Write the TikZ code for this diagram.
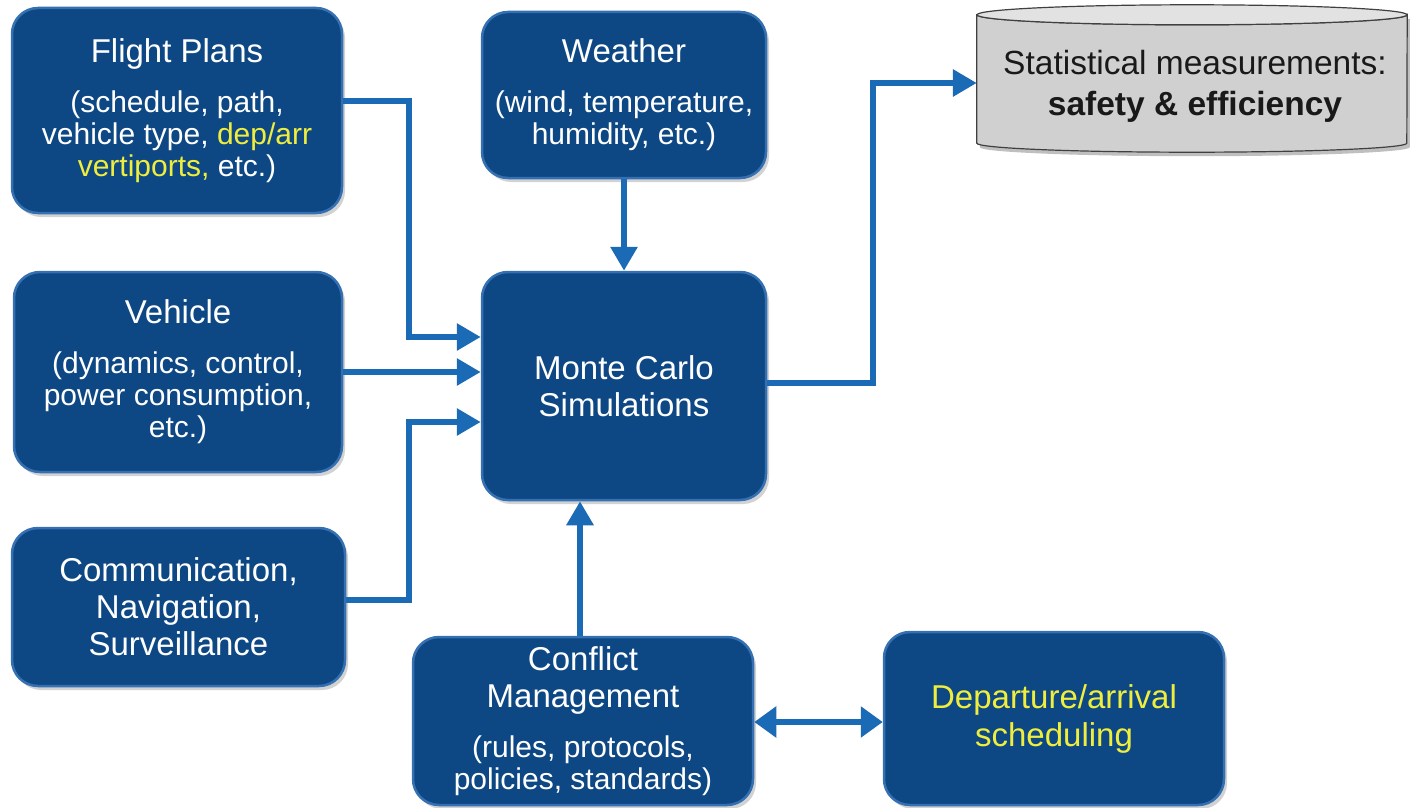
\documentclass[tikz,border=0pt]{standalone}
\usepackage{fontspec}
\setmainfont{Liberation Sans}
\usetikzlibrary{arrows.meta,shadows}
\definecolor{boxfill}{RGB}{14,72,132}
\definecolor{boxedge}{RGB}{52,112,178}
\definecolor{arrowc}{RGB}{27,106,182}
\definecolor{hl}{RGB}{240,238,60}
\definecolor{cylfill}{RGB}{208,208,208}
\definecolor{cyltop}{RGB}{226,226,226}
\newcommand{\ttlfont}{\fontsize{33}{37}\selectfont}
\newcommand{\dscfont}{\fontsize{30}{32}\selectfont}
\begin{document}
\begin{tikzpicture}[x=1pt,y=-1pt,
  box/.style={draw=boxedge, line width=2.5pt, fill=boxfill, rounded corners=26pt,
    text=white, align=center, inner sep=0pt,
    drop shadow={opacity=0.35, shadow xshift=3pt, shadow yshift=-4pt}},
  arr/.style={draw=arrowc, line width=6pt, -{Triangle[length=24pt,width=26pt]}},
  darr/.style={draw=arrowc, line width=6pt, {Triangle[length=22pt,width=30pt]}-{Triangle[length=22pt,width=30pt]}}
]
\useasboundingbox[fill=white] (0,0) rectangle (1410,808);

% boxes
\node[box, minimum width=330pt, minimum height=205pt, font=\dscfont] (fp) at (177,110.5)
  {{\ttlfont Flight Plans}\\[18pt](schedule, path,\\vehicle type, \textcolor{hl}{dep/arr}\\\textcolor{hl}{vertiports,} etc.)};
\node[box, minimum width=284pt, minimum height=166pt, font=\dscfont] (wx) at (624,95)
  {{\ttlfont Weather}\\[18pt](wind, temperature,\\humidity, etc.)};
\node[box, minimum width=328pt, minimum height=200pt, font=\dscfont] (vh) at (178,372)
  {{\ttlfont Vehicle}\\[18pt](dynamics, control,\\power consumption,\\etc.)};
\node[box, minimum width=284pt, minimum height=228pt, font=\ttlfont] (mc) at (624,386)
  {Monte Carlo\\Simulations};
\node[box, minimum width=333pt, minimum height=158pt, font=\ttlfont] (cns) at (178.5,607)
  {Communication,\\Navigation,\\Surveillance};
\node[box, minimum width=340pt, minimum height=168pt, font=\dscfont] (cm) at (583,721)
  {{\ttlfont Conflict}\\[5pt]{\ttlfont Management}\\[18pt](rules, protocols,\\policies, standards)};
\node[box, minimum width=340pt, minimum height=173pt, font=\fontsize{33}{38}\selectfont, text=hl] (dep) at (1054,718.5)
  {Departure/arrival\\scheduling};

% cylinder
\node[minimum width=430pt, minimum height=128pt, inner sep=0pt, align=center] (stat) at (1192,79) {};
\fill[black, opacity=0.25] ([xshift=3pt,yshift=-4pt]stat.north west) -- ([xshift=3pt,yshift=-4pt]stat.south west)
  arc[start angle=180, end angle=360, x radius=215pt, y radius=9pt] -- ([xshift=3pt,yshift=-4pt]stat.north east) -- cycle;
\draw[fill=cylfill, draw=black!75, line width=1.2pt] (stat.north west) -- (stat.south west)
  arc[start angle=180, end angle=360, x radius=215pt, y radius=9pt] -- (stat.north east)
  arc[start angle=0, end angle=-180, x radius=215pt, y radius=10pt] -- cycle;
\draw[fill=cyltop, draw=black!75, line width=1.2pt] (stat.north) ellipse[x radius=215pt, y radius=10pt];
\node[align=center, font=\fontsize{33.5}{41}\selectfont, text=black!90] (stattxt) at (1195,86)
  {Statistical measurements:\\\textbf{safety \& efficiency}};

% connectors
\draw[arr] ([yshift=10pt]fp.east) -- ++(66,0) |- ([yshift=49pt]mc.west);
\draw[arr] (vh.east) -- (vh.east -| mc.west);
\draw[arr] ([yshift=7pt]cns.east) -- ++(63,0) |- ([yshift=-36pt]mc.west);
\draw[arr] (wx.south) -- (mc.north);
\draw[arr] ([xshift=-3pt]cm.north) -- ([xshift=-3pt]cm.north |- mc.south);
\draw[arr] ([yshift=3pt]mc.east) -- ++(106,0) |- ([yshift=-4pt]stat.west);
\draw[darr] ([yshift=-1pt]cm.east) -- ([yshift=-1pt]cm.east -| dep.west);
\end{tikzpicture}
\end{document}
